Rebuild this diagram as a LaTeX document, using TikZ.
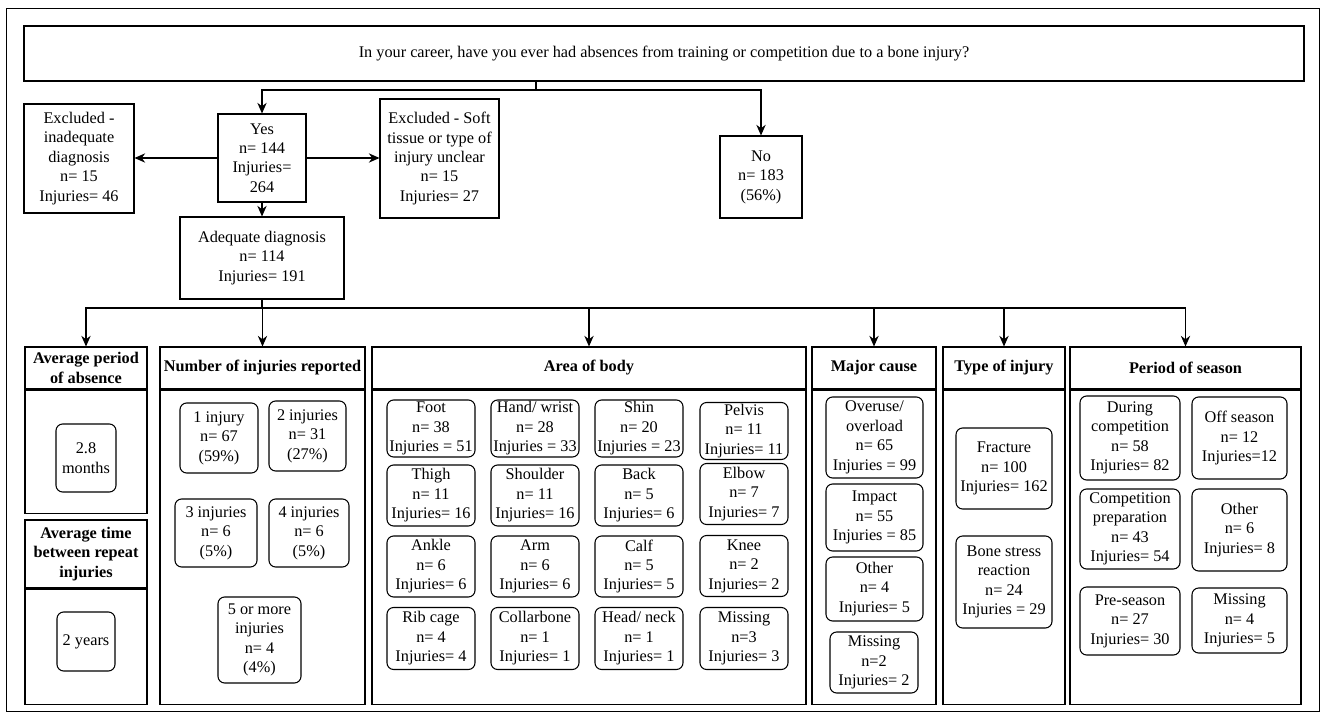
\documentclass[tikz,border=0pt]{standalone}
\usepackage{fontspec}
\setmainfont{Liberation Serif}
\usetikzlibrary{arrows.meta}

\begin{document}
\begin{tikzpicture}[x=0.75pt,y=-0.75pt,
  every node/.style={align=center,inner sep=1pt,font=\fontsize{12.2}{14.6}\selectfont},
  sz/.style 2 args={minimum width=#1*0.75pt,minimum height=#2*0.75pt},
  sqbox/.style={draw,line width=0.8pt},
  rbox/.style={draw,line width=0.8pt,rounded corners=5pt},
  head/.style={draw,line width=0.8pt,font=\fontsize{12.2}{14.6}\selectfont\bfseries},
  arr/.style={-{Stealth[length=8pt,width=7pt]},line width=0.8pt}]
  \useasboundingbox (0,0) rectangle (1324,717);
  % frame
  \draw[line width=0.8pt] (6.5,8.5) rectangle (1319.5,711.5);

  % question and first split
  \node[sqbox,sz={1280}{55}] (q) at (664,53.5) {In your career, have you ever had absences from training or competition due to a bone injury?};
  \node[sqbox,sz={88}{88}] (yes) at (262,158) {Yes\\n= 144\\Injuries=\\264};
  \node[sqbox,sz={110}{109}] (exl) at (79,158.5) {Excluded -\\inadequate\\diagnosis\\n= 15\\Injuries= 46};
  \node[sqbox,sz={119}{119}] (exr) at (439.5,158.5) {Excluded - Soft\\tissue or type of\\injury unclear\\n= 15\\Injuries= 27};
  \node[sqbox,sz={82}{82}] (no) at (761,177) {No\\n= 183\\(56\%)};
  \node[sqbox,sz={164}{82}] (adeq) at (262,258) {Adequate diagnosis\\n= 114\\Injuries= 191};

  \coordinate (split) at (536,90);
  \draw[line width=0.8pt] (split |- q.south) -- (split);
  \draw[arr] (split) -| (yes.north);
  \draw[arr] (split) -| (no.north);
  \draw[arr] (yes.west) -- (yes.west -| exl.east);
  \draw[arr] (yes.east) -- (yes.east -| exr.west);
  \draw[arr] (yes.south) -- (adeq.north);

  % panel headers
  \node[head,sz={122}{42}] (h1) at (86,368) {Average period\\of absence};
  \node[head,sz={122}{68}] (h2) at (86,554) {Average time\\between repeat\\injuries};
  \node[head,sz={205}{42}] (h3) at (262.5,368) {Number of injuries reported};
  \node[head,sz={434}{42}] (h4) at (589,368) {Area of body};
  \node[head,sz={124}{42}] (h5) at (874,368) {Major cause};
  \node[head,sz={122}{42}] (h6) at (1004,368) {Type of injury};
  \node[head,sz={231}{42}] (h7) at (1185.5,368) {Period of season};

  % panel bodies
  \node[sqbox,sz={122}{123},anchor=north] (b1) at (h1.south) {};
  \node[sqbox,sz={122}{115},anchor=north] (b2) at (h2.south) {};
  \node[sqbox,sz={205}{314},anchor=north] (b3) at (h3.south) {};
  \node[sqbox,sz={434}{314},anchor=north] (b4) at (h4.south) {};
  \node[sqbox,sz={124}{314},anchor=north] (b5) at (h5.south) {};
  \node[sqbox,sz={122}{314},anchor=north] (b6) at (h6.south) {};
  \node[sqbox,sz={231}{314},anchor=north] (b7) at (h7.south) {};

  \coordinate (branch) at (262,308);
  \draw[line width=0.8pt] (adeq.south) -- (branch);
  \draw[arr] (branch) -| (h1.north);
  \draw[arr] (branch) -| (h3.north);
  \draw[arr] (branch) -| (h4.north);
  \draw[arr] (branch) -| (h5.north);
  \draw[arr] (branch) -| (h6.north);
  \draw[arr] (branch) -| (h7.north);

  % averages
  \node[rbox,sz={60}{68}] (months) at (86,458) {2.8\\months};
  \node[rbox,sz={58}{59}] (years) at (86,641.5) {2 years};

  % number of injuries
  \node[rbox,sz={78}{70}] (n1) at (219,438) {1 injury\\n= 67\\(59\%)};
  \node[rbox,sz={77}{70}] (n2) at (307.5,436) {2 injuries\\n= 31\\(27\%)};
  \node[rbox,sz={82}{68}] (n3) at (216,533) {3 injuries\\n= 6\\(5\%)};
  \node[rbox,sz={80}{68}] (n4) at (309,533) {4 injuries\\n= 6\\(5\%)};
  \node[rbox,sz={83}{86}] (n5) at (259.5,640) {5 or more\\injuries\\n= 4\\(4\%)};

  % area of body
  \node[rbox,sz={88}{57}] (foot) at (431,428.5) {Foot\\n= 38\\Injuries = 51};
  \node[rbox,sz={88}{57}] (hand) at (535,428.5) {Hand/ wrist\\n= 28\\Injuries = 33};
  \node[rbox,sz={88}{57}] (shin) at (639,428.5) {Shin\\n= 20\\Injuries = 23};
  \node[rbox,sz={88}{57}] (pelvis) at (744,431) {Pelvis\\n= 11\\Injuries= 11};
  \node[rbox,sz={88}{61}] (thigh) at (431,495.5) {Thigh\\n= 11\\Injuries= 16};
  \node[rbox,sz={88}{61}] (shoulder) at (535,495.5) {Shoulder\\n= 11\\Injuries= 16};
  \node[rbox,sz={88}{61}] (back) at (639,495.5) {Back\\n= 5\\Injuries= 6};
  \node[rbox,sz={88}{61}] (elbow) at (744,494) {Elbow\\n= 7\\Injuries= 7};
  \node[rbox,sz={88}{61}] (ankle) at (431,566.5) {Ankle\\n= 6\\Injuries= 6};
  \node[rbox,sz={88}{61}] (arm) at (535,566.5) {Arm\\n= 6\\Injuries= 6};
  \node[rbox,sz={88}{61}] (calf) at (639,566.5) {Calf\\n= 5\\Injuries= 5};
  \node[rbox,sz={88}{61}] (knee) at (744,566) {Knee\\n= 2\\Injuries= 2};
  \node[rbox,sz={88}{62}] (rib) at (431,638.5) {Rib cage\\n= 4\\Injuries= 4};
  \node[rbox,sz={88}{62}] (collar) at (535,638.5) {Collarbone\\n= 1\\Injuries= 1};
  \node[rbox,sz={88}{62}] (head) at (639,638.5) {Head/ neck\\n= 1\\Injuries= 1};
  \node[rbox,sz={88}{62}] (amiss) at (744,638.5) {Missing\\n=3\\Injuries= 3};

  % major cause
  \node[rbox,sz={97}{81}] (overuse) at (874.5,437.5) {Overuse/\\overload\\n= 65\\Injuries = 99};
  \node[rbox,sz={97}{67}] (impact) at (874.5,517.5) {Impact\\n= 55\\Injuries = 85};
  \node[rbox,sz={97}{64}] (cother) at (874.5,589) {Other\\n= 4\\Injuries= 5};
  \node[rbox,sz={88}{61}] (cmiss) at (874,662.5) {Missing\\n=2\\Injuries= 2};

  % type of injury
  \node[rbox,sz={96}{81}] (fract) at (1004,468.5) {Fracture\\n= 100\\Injuries= 162};
  \node[rbox,sz={96}{92}] (bone) at (1004,582) {Bone stress\\reaction\\n= 24\\Injuries = 29};

  % period of season
  \node[rbox,sz={100}{84}] (during) at (1130,438) {During\\competition\\n= 58\\Injuries= 82};
  \node[rbox,sz={95}{82}] (offs) at (1239.5,438) {Off season\\n= 12\\Injuries=12};
  \node[rbox,sz={100}{80}] (prep) at (1130,529) {Competition\\preparation\\n= 43\\Injuries= 54};
  \node[rbox,sz={95}{82}] (sother) at (1239.5,530) {Other\\n= 6\\Injuries= 8};
  \node[rbox,sz={100}{68}] (pre) at (1130,621) {Pre-season\\n= 27\\Injuries= 30};
  \node[rbox,sz={95}{65}] (smiss) at (1239.5,620.5) {Missing\\n= 4\\Injuries= 5};
\end{tikzpicture}
\end{document}
